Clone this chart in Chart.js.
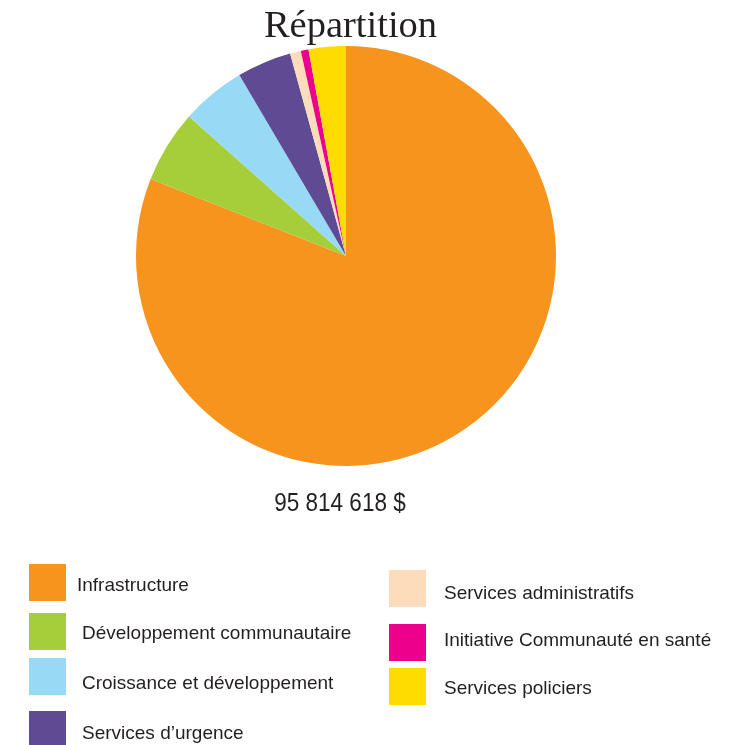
<!DOCTYPE html>
<html><head><meta charset="utf-8">
<script src="https://cdn.jsdelivr.net/npm/chart.js@4/dist/chart.umd.min.js"></script>
<style>
html,body{margin:0;padding:0;background:#fff;width:751px;height:745px;overflow:hidden;position:relative}
#wrap{position:absolute;left:0;top:0;width:751px;height:745px}
.t{position:absolute;white-space:nowrap;color:#231f20}
#title{left:0;width:701px;text-align:center;top:2px;font-family:"Liberation Serif","Times New Roman",serif;font-size:38.5px;color:#231f20}
#total{left:230px;width:220px;text-align:center;top:488px;font-family:"Liberation Sans",Arial,sans-serif;font-size:25px;transform:scaleX(0.9);transform-origin:center top}
.sw{position:absolute;width:37px;height:37px}
.lt{position:absolute;font-family:"Liberation Sans",Arial,sans-serif;font-size:19px;color:#231f20;white-space:nowrap;line-height:20px}
</style></head>
<body>
<div id="wrap"><canvas id="c" width="751" height="745"></canvas></div>
<div class="t" id="title"></div>
<div class="t" id="total"></div>
<div id="legend"></div>
<script>
const titleText = "Répartition";
const totalText = "95 814 618 $";
const categories = ["Infrastructure","Développement communautaire","Croissance et développement","Services d’urgence","Services administratifs","Initiative Communauté en santé","Services policiers"];
const values = [77582000, 5356000, 4752000, 4015000, 805000, 565000, 2740000];
const colors = ["#F7941D","#A6CE39","#98D9F6","#5F4B93","#FDDCBC","#EC008C","#FFDC00"];
// legend layout: [left, swatchTop, textLeft, textCenterY]
const legendPos = [
  [29,564,77,585],[29,613,82,633],[29,658,82,683],[29,711,82,733],
  [389,570,444,593],[389,624,444,640],[389,668,444,688]
];

document.getElementById('title').textContent = titleText;
document.getElementById('total').textContent = totalText;
const lg = document.getElementById('legend');
categories.forEach((c,i)=>{
  const p = legendPos[i];
  const s = document.createElement('div'); s.className='sw';
  s.style.left=p[0]+'px'; s.style.top=p[1]+'px'; s.style.background=colors[i];
  lg.appendChild(s);
  const t = document.createElement('div'); t.className='lt';
  t.style.left=p[2]+'px'; t.style.top=(p[3]-10)+'px'; t.textContent=c;
  lg.appendChild(t);
});

new Chart(document.getElementById('c'), {
  type:'pie',
  data:{labels:categories, datasets:[{data:values, backgroundColor:colors, borderWidth:0}]},
  options:{
    responsive:false, animation:false,
    layout:{padding:{left:136, right:195, top:46, bottom:279}},
    plugins:{legend:{display:false}, tooltip:{enabled:false}, title:{display:false}}
  }
});
</script>
</body></html>
